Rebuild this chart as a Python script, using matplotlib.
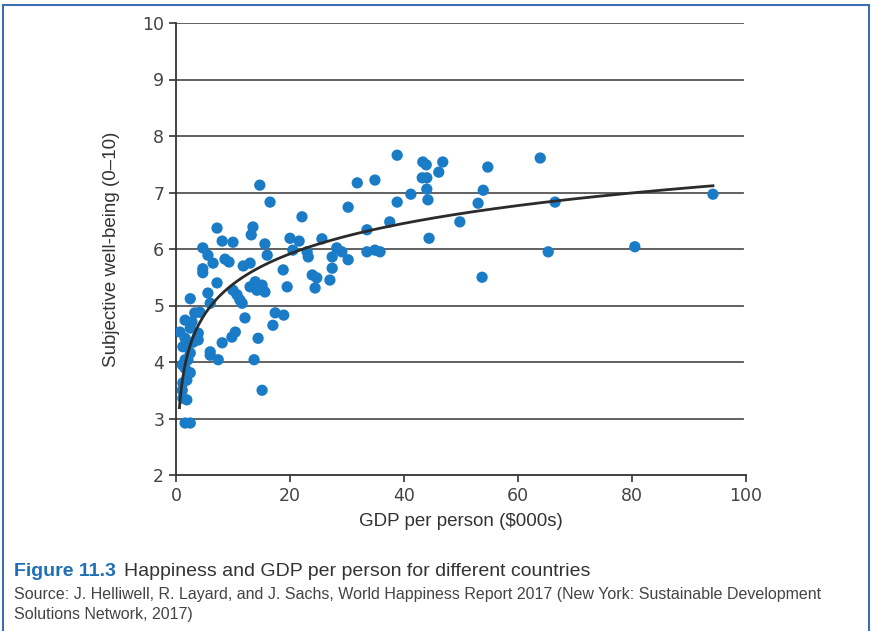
import numpy as np
import matplotlib.pyplot as plt
from matplotlib.patches import Rectangle

# GDP per person ($000s) and subjective well-being (0-10) for each country
gdp = [1.6, 2.5, 1.2, 1.9, 1.1, 1.2, 2.1, 1.6, 2.5, 1.9,
       1.1, 2.1, 1.6, 2.5, 1.2, 1.9, 3.0, 3.7, 1.6, 0.7,
       2.5, 3.9, 3.9, 1.6, 2.8, 3.3, 4.2, 2.5, 4.7, 4.7,
       4.7, 5.6, 6.5, 5.6, 6.0, 7.2, 7.2, 8.1, 10.0, 8.6,
       9.3, 11.8, 13.0, 13.5, 13.2, 10.0, 10.7, 11.2, 11.6, 12.1,
       10.4, 9.8, 8.1, 6.0, 6.0, 7.4, 13.0, 13.9, 14.2, 15.1,
       15.6, 19.5, 17.4, 18.9, 17.0, 14.4, 13.7, 15.1, 14.7, 16.5,
       15.6, 16.0, 18.8, 20.0, 21.6, 20.5, 22.1, 23.0, 23.2, 23.9,
       24.7, 24.4, 25.6, 27.4, 27.4, 27.0, 28.2, 29.1, 30.2, 30.2,
       31.8, 33.5, 33.5, 34.9, 35.8, 34.9, 37.5, 38.8, 38.8, 41.2,
       43.2, 44.0, 43.3, 43.9, 46.8, 46.1, 44.0, 44.2, 44.4, 49.8,
       53.0, 53.9, 54.7, 53.7, 63.9, 66.5, 65.3, 80.5, 94.2]
wellbeing = [2.92, 2.92, 3.36, 3.33, 3.50, 3.63, 3.81, 3.89, 3.81, 3.68,
             3.95, 4.04, 4.04, 4.16, 4.27, 4.30, 4.35, 4.44, 4.42, 4.53,
             4.60, 4.51, 4.39, 4.74, 4.71, 4.87, 4.88, 5.12, 5.58, 5.65,
             6.02, 5.89, 5.75, 5.22, 5.04, 5.40, 6.37, 6.14, 6.12, 5.82,
             5.77, 5.70, 5.75, 6.39, 6.25, 5.27, 5.19, 5.10, 5.04, 4.78,
             4.53, 4.44, 4.34, 4.18, 4.12, 4.04, 5.33, 5.42, 5.27, 5.36,
             5.24, 5.33, 4.87, 4.83, 4.65, 4.42, 4.04, 3.50, 7.13, 6.83,
             6.09, 5.89, 5.63, 6.19, 6.14, 5.98, 6.57, 5.95, 5.86, 5.54,
             5.49, 5.31, 6.18, 5.86, 5.66, 5.45, 6.02, 5.95, 5.81, 6.74,
             7.17, 6.34, 5.95, 5.98, 5.95, 7.22, 6.48, 6.83, 7.66, 6.97,
             7.26, 7.26, 7.54, 7.49, 7.54, 7.36, 7.06, 6.87, 6.19, 6.48,
             6.81, 7.04, 7.45, 5.50, 7.61, 6.83, 5.95, 6.04, 6.97]

x_ticks = [0, 20, 40, 60, 80, 100]
y_ticks = [2, 3, 4, 5, 6, 7, 8, 9, 10]

W, H = 872, 631
fig = plt.figure(figsize=(W / 100, H / 100), dpi=100)
fig.patch.set_facecolor('white')

# axes placed in pixel terms
left, right, top, bottom = 176, 746, 23, 475
ax = fig.add_axes([left / W, 1 - bottom / H, (right - left) / W, (bottom - top) / H])

for yv in y_ticks[1:]:
    ax.axhline(yv, xmin=0, xmax=0.995, color='#555555', lw=1.3, zorder=1)

ax.scatter(gdp, wellbeing, s=66, color='#1a7cc6', edgecolors='none', zorder=3)

# logarithmic trend line fitted to the points
b, a = np.polyfit(np.log(gdp), wellbeing, 1)
xs = np.linspace(0.6, 94.2, 300)
ax.plot(xs, a + b * np.log(xs), color='#2b2b2b', lw=2.0, zorder=4)

ax.set_xlim(0, 100)
ax.set_ylim(2, 10)
ax.set_xticks(x_ticks)
ax.set_yticks(y_ticks)
for s in ['top', 'right']:
    ax.spines[s].set_visible(False)
for s in ['left', 'bottom']:
    ax.spines[s].set_color('#333333')
    ax.spines[s].set_linewidth(1.3)
ax.tick_params(axis='both', colors='#333333', labelcolor='#444444',
               labelsize=12.5, length=5, width=1.2)
lab = ['Liberation Sans', 'DejaVu Sans']
ax.set_xlabel('GDP per person ($000s)', fontsize=13.5, color='#333333',
              family=lab, labelpad=6)
ax.set_ylabel('Subjective well-being (0–10)', fontsize=13.5, color='#333333',
              family=lab, labelpad=16)

# caption under the chart
fig.canvas.draw()
r = fig.canvas.get_renderer()
t1 = fig.text(14 / W, 1 - 571 / H, 'Figure 11.3', fontsize=14, color='#1f6fb8',
              weight='bold', family=lab, va='center')
x1 = t1.get_window_extent(r).x1
fig.text((x1 + 8) / W, 1 - 571 / H, 'Happiness and GDP per person for different countries',
         fontsize=14, color='#333333', family=lab, va='center')
fig.text(14 / W, 1 - 595 / H,
         'Source: J. Helliwell, R. Layard, and J. Sachs, World Happiness Report 2017 '
         '(New York: Sustainable Development', fontsize=11.5, color='#444444',
         family=lab, va='center')
fig.text(14 / W, 1 - 615 / H, 'Solutions Network, 2017)', fontsize=11.5,
         color='#444444', family=lab, va='center')

# thin blue frame round the figure
fig.patches.append(Rectangle((3 / W, -0.1), 866 / W, 1 - 5 / H + 0.1,
                             transform=fig.transFigure, fill=False,
                             edgecolor='#3b6fb3', lw=1.5))

fig.savefig('out.png', dpi=100)
